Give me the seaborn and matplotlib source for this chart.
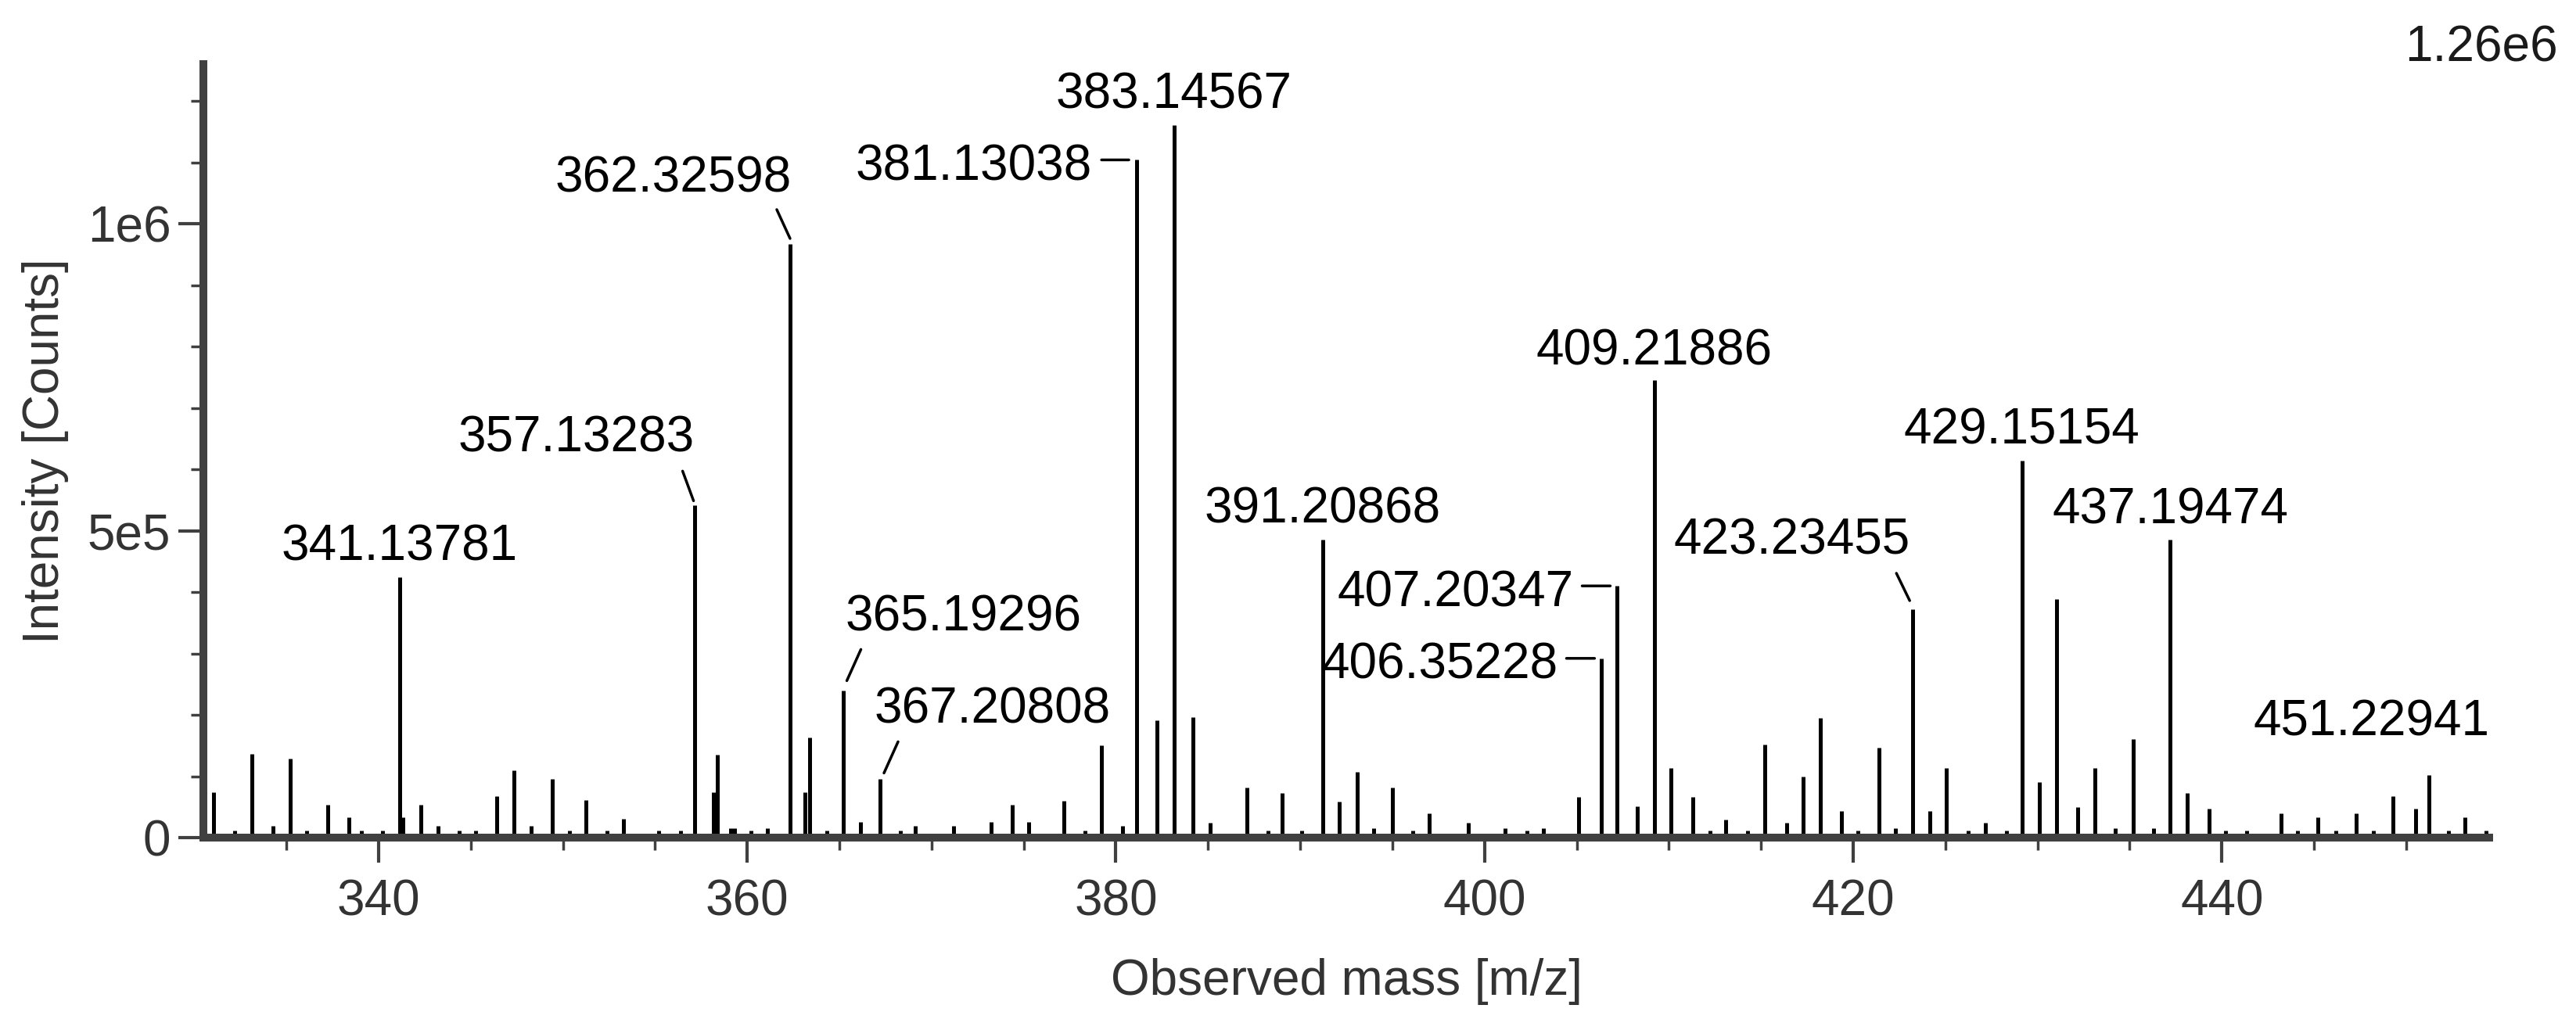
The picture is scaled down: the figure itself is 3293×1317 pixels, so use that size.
import matplotlib
matplotlib.use("Agg")
import matplotlib.pyplot as plt
import pandas as pd
import seaborn as sns
from matplotlib.ticker import FixedLocator, FuncFormatter, MultipleLocator
from matplotlib.transforms import offset_copy

# peak list: m/z and intensity in counts
MZ = [
    331.07, 332.20, 333.12, 334.28, 335.20, 336.12, 337.26, 338.40, 339.09, 340.23,
    341.13781, 341.32, 342.29, 343.22, 344.37, 345.28, 346.43, 347.36, 348.27, 349.42,
    350.34, 351.24, 352.40, 353.30, 355.20, 356.40, 357.13283, 358.15, 358.36, 359.10,
    359.30, 360.20, 361.10, 362.32598, 363.15, 363.40, 364.32, 365.19296, 366.15, 367.20808,
    368.30, 369.12, 371.20, 373.25, 374.40, 375.28, 377.16, 378.32, 379.21, 380.37,
    381.13038, 382.21, 383.14567, 384.20, 385.10, 387.10, 388.25, 389.00, 390.10, 391.20868,
    392.10, 393.10, 394.00, 395.00, 396.10, 397.00, 399.10, 401.10, 402.30, 403.20,
    405.10, 406.35228, 407.20347, 408.30, 409.21886, 410.10, 411.30, 412.25, 413.10, 414.26,
    415.21, 416.39, 417.28, 418.20, 419.35, 420.24, 421.39, 422.30, 423.23455, 424.15,
    425.06, 426.25, 427.17, 428.30, 429.15154, 430.12, 431.04, 432.16, 433.11, 434.23,
    435.18, 436.30, 437.19474, 438.10, 439.30, 440.20, 441.35, 443.20, 444.10, 445.20,
    446.20, 447.30, 448.20, 449.30, 450.50, 451.22941, 452.30, 453.20, 454.35,
]
INTENSITY = [
    74e3, 12e3, 136e3, 19e3, 129e3, 12e3, 54e3, 33e3, 12e3, 12e3,
    424e3, 33e3, 54e3, 19e3, 12e3, 12e3, 67e3, 109e3, 19e3, 95e3,
    12e3, 61e3, 11e3, 30e3, 11e3, 11e3, 541e3, 74e3, 135e3, 15e3,
    15e3, 11e3, 15e3, 967e3, 74e3, 163e3, 12e3, 239e3, 26e3, 95e3,
    12e3, 19e3, 19e3, 26e3, 53e3, 26e3, 60e3, 12e3, 150e3, 19e3,
    1104e3, 191e3, 1160e3, 196e3, 24e3, 81e3, 11e3, 73e3, 11e3, 485e3,
    59e3, 107e3, 15e3, 81e3, 11e3, 39e3, 24e3, 15e3, 11e3, 15e3,
    66e3, 292e3, 410e3, 51e3, 745e3, 114e3, 66e3, 11e3, 29e3, 11e3,
    152e3, 24e3, 99e3, 195e3, 43e3, 11e3, 147e3, 15e3, 372e3, 43e3,
    113e3, 11e3, 24e3, 11e3, 614e3, 91e3, 388e3, 50e3, 113e3, 15e3,
    161e3, 15e3, 485e3, 73e3, 47e3, 12e3, 12e3, 39e3, 12e3, 33e3,
    12e3, 39e3, 12e3, 67e3, 47e3, 102e3, 12e3, 33e3, 12e3,
]

# annotated peaks
PEAK_LABELS = [
    "341.13781", "357.13283", "362.32598", "365.19296", "367.20808",
    "381.13038", "383.14567", "391.20868", "406.35228", "407.20347",
    "409.21886", "423.23455", "429.15154", "437.19474", "451.22941",
]

X_RANGE = (330.5, 454.5)
Y_MAX = 1.26e6
Y_MAJOR = [0, 5e5, 1e6]

# label placement relative to the peak top, in pixels:
# (ha, dx, dy of baseline, leader line start/end or None)
LABEL_LAYOUT = {
    "341.13781": ("center", 0, 22, None),
    "357.13283": ("right", 0, 69, ((-15, 44), (-1, 6))),
    "362.32598": ("right", 2, 66, ((-17, 44), (0, 7))),
    "365.19296": ("left", 3, 77, ((5, 13), (23, 53))),
    "367.20808": ("left", -7, 72, ((5, 8), (23, 48))),
    "381.13038": ("right", -57, -26, ((-45, 0), (-10, 0))),
    "383.14567": ("center", 0, 22, None),
    "391.20868": ("center", 0, 22, None),
    "406.35228": ("right", -56, -26, ((-45, 0), (-9, 0))),
    "407.20347": ("right", -56, -26, ((-45, 0), (-9, 0))),
    "409.21886": ("center", 0, 20, None),
    "423.23455": ("right", -4, 71, ((-21, 46), (-4, 11))),
    "429.15154": ("center", 0, 22, None),
    "437.19474": ("center", 0, 21, None),
    "451.22941": ("right", 78, 50, None),
}

AXIS_GREY = "#404040"
TEXT_GREY = "#333333"
FONT_SIZE = 46


def intensity_label(value, _pos):
    if value == 0:
        return "0"
    return f"{value:.0e}".replace("e+0", "e")


def main():
    sns.set_theme(style="ticks")
    plt.rcParams["font.family"] = ["Liberation Sans", "DejaVu Sans"]

    df = pd.DataFrame({"mz": MZ, "intensity": INTENSITY})

    fig = plt.figure(figsize=(32.93, 13.17), dpi=100)
    ax = fig.add_axes([0.07896, 0.18679, 0.88733, 0.75095])

    ax.vlines(df["mz"], 0, df["intensity"], colors="black", linewidth=3.6)

    ax.set_xlim(*X_RANGE)
    ax.set_ylim(0, Y_MAX)
    ax.xaxis.set_major_locator(MultipleLocator(20))
    ax.xaxis.set_minor_locator(MultipleLocator(5))
    ax.yaxis.set_major_locator(FixedLocator(Y_MAJOR))
    ax.yaxis.set_minor_locator(MultipleLocator(1e5))
    ax.yaxis.set_major_formatter(FuncFormatter(intensity_label))

    sns.despine(ax=ax)
    for side in ("left", "bottom"):
        ax.spines[side].set_linewidth(7.2)
        ax.spines[side].set_color(AXIS_GREY)

    ax.tick_params(which="major", length=23, width=3, color=AXIS_GREY,
                   labelsize=FONT_SIZE, labelcolor=TEXT_GREY)
    ax.tick_params(which="minor", length=11.5, width=2.5, color=AXIS_GREY)
    ax.tick_params(axis="x", which="major", pad=15)
    ax.tick_params(axis="y", which="major", pad=7)

    ax.set_xlabel("Observed mass [m/z]", fontsize=FONT_SIZE, color=TEXT_GREY, labelpad=30)
    ax.set_ylabel("Intensity [Counts]", fontsize=FONT_SIZE, color=TEXT_GREY, labelpad=17)

    peaks = df.set_index("mz")["intensity"]
    for label in PEAK_LABELS:
        mz = float(label)
        height = peaks[mz]
        ha, dx, dy, leader = LABEL_LAYOUT[label]
        ax.annotate(label, xy=(mz, height), xytext=(dx, dy), textcoords="offset pixels",
                    ha=ha, va="baseline", fontsize=FONT_SIZE, color="black",
                    annotation_clip=False)
        if leader is not None:
            (x0, y0), (x1, y1) = leader
            start = offset_copy(ax.transData, fig=fig, x=x0, y=y0, units="dots")
            end = offset_copy(ax.transData, fig=fig, x=x1, y=y1, units="dots")
            ax.annotate("", xy=(mz, height), xycoords=end,
                        xytext=(mz, height), textcoords=start,
                        arrowprops=dict(arrowstyle="-", color="black", lw=2.5,
                                        shrinkA=0, shrinkB=0),
                        annotation_clip=False)

    # full-scale value shown at the top right corner
    ax.text(1.0301, 1.004, f"{Y_MAX / 1e6:.2f}e6", transform=ax.transAxes,
            ha="right", va="baseline", fontsize=FONT_SIZE, color="#1a1a1a")

    fig.savefig("out.png", dpi=100)
    plt.close(fig)


if __name__ == "__main__":
    main()
